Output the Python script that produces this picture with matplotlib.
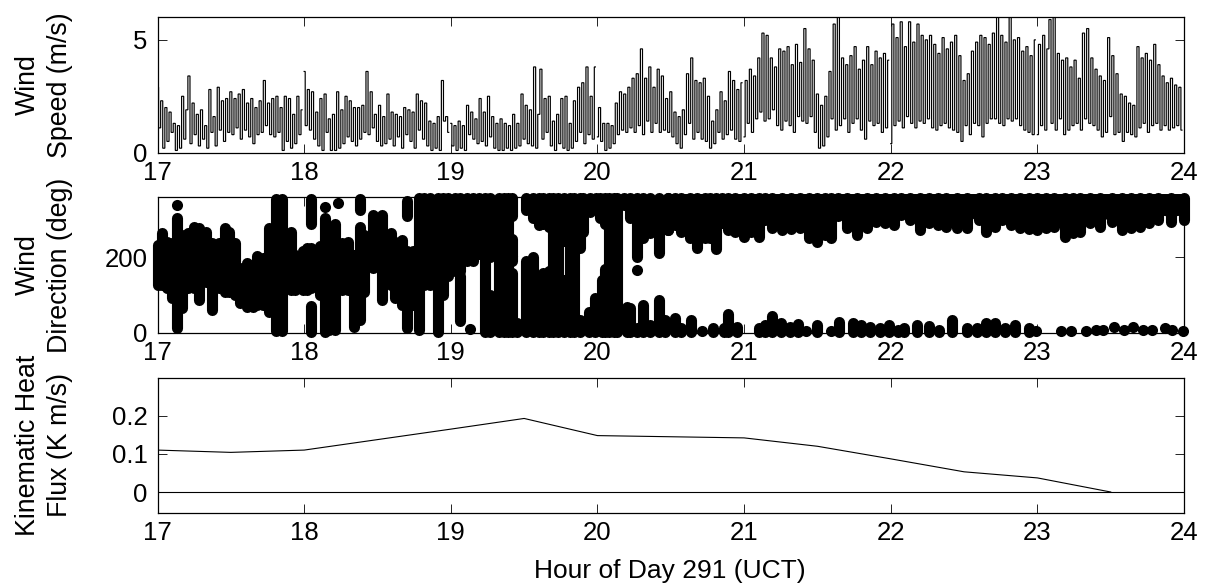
#!/usr/bin/env python3
"""Wind speed, wind direction and kinematic heat flux, day 291."""
import matplotlib
matplotlib.use("Agg")
import matplotlib.pyplot as plt
import numpy as np

plt.rcParams["font.family"] = ["Liberation Sans", "DejaVu Sans"]

# wind speed (m/s), values read per hour, alternating peak / trough
speed_17 = [2.9,1.1,2.3,0.2,2.0,0.5,1.8,0.9,1.3,0.1,
            1.2,0.2,2.5,0.6,1.9,3.4,0.4,2.2,0.8,1.7,
            0.3,1.9,0.6,1.2,0.2,2.8,0.9,1.6,0.3,2.9,
            1.0,2.3,0.5,2.4,0.9,2.7,0.8,2.4,1.1,2.6,
            0.6,2.8,1.0,2.2,0.7,2.4,0.4,2.0,0.8,2.3,
            0.9,3.2,1.2,2.2,0.8,2.4,0.7,2.5,0.9,2.0,
            0.1,2.5,0.5,2.4,0.2,1.7,0.4,2.5,0.8,1.9]
speed_18 = [3.6,1.2,2.8,1.0,2.7,0.6,1.8,0.3,2.4,0.1,
            2.6,0.9,1.5,0.1,1.7,0.1,2.7,0.2,1.9,0.4,
            2.5,0.7,2.3,0.5,2.0,0.3,2.0,0.6,2.1,0.9,
            3.6,0.8,2.7,1.1,1.7,0.5,2.1,0.3,1.6,0.4,
            2.6,0.6,1.8,0.3,1.7,0.7,1.6,0.2,2.0,0.8,
            1.9,0.5,1.8,0.2,2.6,1.0,2.3,0.6,2.2,0.3,
            1.4,0.1,1.3,0.2,1.6,0.1,3.2,1.4,1.6,0.9]
speed_19 = [1.3,0.3,1.2,0.1,1.4,0.2,1.2,0.1,2.1,0.8,
            1.8,0.6,1.5,0.4,2.4,0.5,1.8,0.3,2.5,0.7,
            1.6,0.2,1.3,0.1,1.5,0.1,1.3,0.2,1.2,0.1,
            1.7,0.2,1.3,0.3,2.6,0.6,2.1,0.4,1.9,0.3,
            3.8,0.2,1.7,3.7,0.6,2.4,0.9,2.5,0.3,1.4,
            0.1,1.7,0.4,2.4,0.2,2.5,0.1,1.3,0.2,2.3,
            0.5,2.9,0.9,3.1,0.4,3.8,0.8,2.5,0.6,3.8]
speed_20 = [0.7,2.0,0.5,1.3,0.1,1.3,0.2,1.2,0.4,2.2,
            0.8,2.7,1.0,2.6,0.9,2.9,1.1,3.3,0.9,3.5,
            1.2,4.6,0.8,3.3,1.4,3.8,0.9,2.9,1.3,3.7,
            0.9,3.4,1.0,2.4,0.9,2.7,0.7,1.8,0.4,1.6,
            0.2,1.9,0.8,3.5,1.3,4.2,0.6,3.2,0.9,3.1,
            0.6,3.3,0.5,2.5,0.2,1.4,0.4,1.9,0.9,2.7,
            0.6,2.3,0.8,3.6,1.0,3.2,0.6,2.8,0.5,3.1]
speed_21 = [0.7,3.2,1.3,3.7,0.9,3.4,1.5,4.2,1.8,5.3,
            1.4,5.2,1.5,4.2,1.9,3.8,1.2,4.6,1.0,4.5,
            1.4,4.7,1.2,3.9,0.9,4.8,1.6,4.0,1.4,5.5,
            1.3,4.6,1.6,4.1,0.9,2.6,0.2,2.1,0.3,2.5,
            0.7,3.6,1.5,5.7,1.0,6.0,1.2,4.2,1.5,3.9,
            0.9,4.3,1.3,4.7,1.5,3.7,1.0,4.1,0.6,4.7,
            1.4,3.9,1.2,4.5,1.3,4.2,0.9,4.4,1.1,4.1]
speed_22 = [0.4,5.7,1.2,5.1,1.4,5.8,1.1,4.7,1.6,5.8,
            1.3,4.9,1.1,5.7,1.4,5.2,1.3,5.0,1.5,5.2,
            1.1,4.8,1.0,4.4,1.2,5.1,1.3,4.6,1.1,4.9,
            1.0,5.2,0.9,4.3,0.5,3.2,1.2,3.5,0.8,4.5,
            1.3,4.9,1.2,5.2,0.7,5.1,1.3,4.8,1.5,5.3,
            1.5,6.0,1.3,5.2,1.2,4.9,1.5,6.0,1.4,5.0,
            1.5,5.1,1.2,4.5,1.0,4.7,0.9,4.3,0.8,5.0]
speed_23 = [0.8,4.8,1.2,5.2,1.0,4.6,5.9,1.3,6.0,1.0,
            4.4,1.5,4.1,0.8,4.2,1.0,3.8,1.2,4.1,1.3,
            3.3,1.0,5.3,1.5,5.5,1.3,4.2,1.2,3.7,1.0,
            3.4,0.7,3.2,0.9,5.1,1.6,4.3,0.8,3.5,0.9,
            2.6,0.5,2.5,0.9,2.2,0.8,2.1,0.7,4.7,1.1,
            4.2,1.3,4.4,0.9,4.1,1.2,4.8,1.3,3.9,1.0,
            3.4,1.2,3.1,1.0,3.3,1.1,3.0,1.2,2.9,1.0]
speed_hours = [17, 18, 19, 20, 21, 22, 23]
speed_lists = [speed_17, speed_18, speed_19, speed_20, speed_21, speed_22, speed_23]

# wind direction (deg), per-time spans of samples before the flow settles
seg_hour = [17.00,17.03,17.065,17.10,17.13,17.17,17.21,17.25,17.28,17.33,17.37,17.42,17.46,17.49,17.53,
            17.56,17.61,17.65,17.68,17.72,17.76,17.81,17.85,17.91,17.94,17.99,18.02,18.05,18.05,18.05,
            18.08,18.11,18.14,18.17,18.21,18.26,18.30,18.34,18.38,18.38,18.41,18.47,18.53,18.59,18.62,
            18.67,18.70,18.70,18.74,18.78,18.82,18.86,18.91,18.95,18.98,19.03,19.06,19.06,19.11,19.15,
            19.19,19.23,19.27,19.27,19.33,19.36,19.39,19.42,19.42,19.42,19.45,19.51,19.56,19.60,19.63,
            19.67,19.70,19.73,19.77,19.77,19.81,19.84,20.05,20.08,20.11,20.13,
            19.88,19.90,19.95,19.99,20.02,20.05,19.88,19.94,19.98,20.03,
            19.51,19.56,19.60,19.63,19.67,20.18,20.22,20.27,20.31,20.36,20.42,20.48,
            20.20,20.22,20.27,20.31,20.36,20.42]
seg_low = [127,127,118,91,12,65,118,118,87,136,60,118,109,109,100,
           78,69,69,74,74,56,5,5,114,114,114,114,118,290,3,
           127,100,3,7,7,114,114,16,34,325,109,171,87,127,91,
           74,12,310,74,7,127,127,3,100,150,165,30,165,190,190,
           210,3,3,200,3,3,3,3,190,310,3,3,3,3,3,
           3,3,3,3,245,3,3,3,3,3,3,
           224,269,322,331,304,290,3,3,3,3,
           325,305,285,290,280,340,304,202,251,264,211,273,
           3,3,3,3,3,3]
seg_high = [233,264,242,238,304,260,264,282,278,269,238,238,278,269,238,
            171,184,180,205,198,278,355,355,269,207,216,224,224,355,70,
            189,230,304,250,290,238,242,207,282,355,260,313,313,264,242,
            247,216,350,216,357,357,357,357,357,357,357,150,357,357,357,
            357,357,100,357,357,357,357,160,250,357,25,190,200,100,160,
            165,357,357,140,357,357,357,170,357,357,357,
            357,357,357,357,357,357,34,56,91,140,
            357,357,357,357,357,357,357,357,357,357,357,357,
            69,65,12,74,20,87]

# upper direction band from about 20.5 h: lower edge of the samples
band_hour = [20.48,20.53,20.57,20.63,20.68,20.73,20.77,20.81,20.85,20.89,20.94,21.00,21.05,21.10,21.14,
             21.19,21.26,21.32,21.38,21.44,21.50,21.55,21.59,21.64,21.70,21.77,21.84,21.90,21.96,22.02,
             22.07,22.13,22.20,22.26,22.32,22.38,22.45,22.52,22.60,22.65,22.71,22.76,22.82,22.88,22.94,
             23.00,23.06,23.11,23.19,23.24,23.29,23.36,23.43,23.51,23.58,23.64,23.70,23.76,23.82,23.91,24.00]
band_low = [273,286,269,251,224,251,251,223,291,273,269,255,269,255,300,
            278,273,276,278,251,242,260,251,309,278,260,278,295,291,286,
            313,300,273,291,286,282,279,278,300,269,282,300,286,278,276,
            273,278,282,255,264,269,291,282,295,273,279,282,291,300,295,300]

# lower direction band (wrapped past north): upper edge of the samples
wrap_hour = [20.46,20.53,20.57,20.64,20.79,20.86,20.89,20.95,21.10,21.14,21.19,21.25,21.31,21.37,21.50,
             21.65,21.74,21.80,21.86,21.93,21.99,22.05,22.09,22.18,22.26,22.33,22.42,22.52,22.59,22.65,
             22.71,22.78,22.85,22.94]
wrap_high = [34,40,12,34,13,12,51,16,12,20,45,25,16,22,20,
             29,25,20,16,12,20,7,12,20,19,7,35,12,12,25,
             25,12,20,12]

# isolated direction samples
dot_hour = [17.13,18.14,18.23,19.13,19.42,20.27,20.71,21.42,21.59,22.99,23.16,23.23,23.33,23.40,23.45,
            23.52,23.59,23.65,23.72,23.78,23.87,23.92,23.99]
dot_dir = [340,335,345,9,205,167,4,4,4,5,4,4,5,8,6,
           14,7,16,8,7,12,6,5]

# kinematic heat flux (K m/s)
flux_hour = [17, 17.5, 18, 19, 19.5, 20, 21, 21.5, 22, 22.5, 23, 23.5]
flux = [0.110, 0.104, 0.110, 0.165, 0.193, 0.148, 0.142, 0.120, 0.087, 0.053, 0.037, 0.0]

hour_ticks = [17, 18, 19, 20, 21, 22, 23, 24]
INK = "#000000"
FS = 18.5
DOT = 8.0  # pt, about 11 px across

fig = plt.figure(figsize=(12.06, 5.88), dpi=100)
fig.patch.set_facecolor("white")
ax1 = fig.add_axes([0.1306, 0.7403, 0.8512, 0.2303])
ax2 = fig.add_axes([0.1306, 0.4342, 0.8512, 0.2303])
ax3 = fig.add_axes([0.1306, 0.1276, 0.8512, 0.2301])

for start, vals in zip(speed_hours, speed_lists):
    t = np.linspace(start, start + 1, len(vals), endpoint=False)
    ax1.plot(t, vals, color=INK, lw=0.85, drawstyle="steps-mid", solid_joinstyle="miter", snap=False)
ax1.set_ylim(0, 6); ax1.set_yticks([0, 5]); ax1.set_yticklabels(["0", "5"])

ax2.vlines(seg_hour, seg_low, seg_high, color=INK, lw=DOT, capstyle="round", clip_on=False, zorder=3)
ax2.vlines(band_hour, band_low, 357, color=INK, lw=DOT, capstyle="round", clip_on=False, zorder=3)
ax2.fill_between(band_hour, np.array(band_low) + 14, 370, color=INK, lw=0, clip_on=False, zorder=3)
ax2.vlines(wrap_hour, 3, wrap_high, color=INK, lw=DOT, capstyle="round", clip_on=False, zorder=3)
ax2.plot(dot_hour, dot_dir, "o", color=INK, ms=DOT, mew=0, clip_on=False, zorder=3)
ax2.set_ylim(0, 360); ax2.set_yticks([0, 200]); ax2.set_yticklabels(["0", "200"])

ax3.plot(flux_hour, flux, color=INK, lw=0.8)
ax3.axhline(0, color=INK, lw=0.8)
ax3.set_ylim(-0.055, 0.3); ax3.set_yticks([0, 0.1, 0.2]); ax3.set_yticklabels(["0", "0.1", "0.2"])
ax3.set_xlabel("Hour of Day 291 (UCT)", fontsize=FS + 0.5)
ax3.xaxis.set_label_coords(0.4995, -0.34)

labels = ["Wind\nSpeed (m/s)", "Wind\nDirection (deg)", "Kinematic Heat\nFlux (K m/s)"]
for ax, lbl in zip([ax1, ax2, ax3], labels):
    ax.set_xlim(17, 24); ax.set_xticks(hour_ticks)
    ax.tick_params(direction="in", top=True, right=True, length=6.5, width=0.6, labelsize=FS)
    ax.tick_params(axis="x", pad=6)
    ax.tick_params(axis="y", pad=7)
    for sp in ax.spines.values(): sp.set_linewidth(0.9)
    ax.set_ylabel(lbl, fontsize=19.3, linespacing=1.3)
    ax.yaxis.set_label_coords(-0.082, 0.5)

plt.savefig("out.png", dpi=100, facecolor="white")
